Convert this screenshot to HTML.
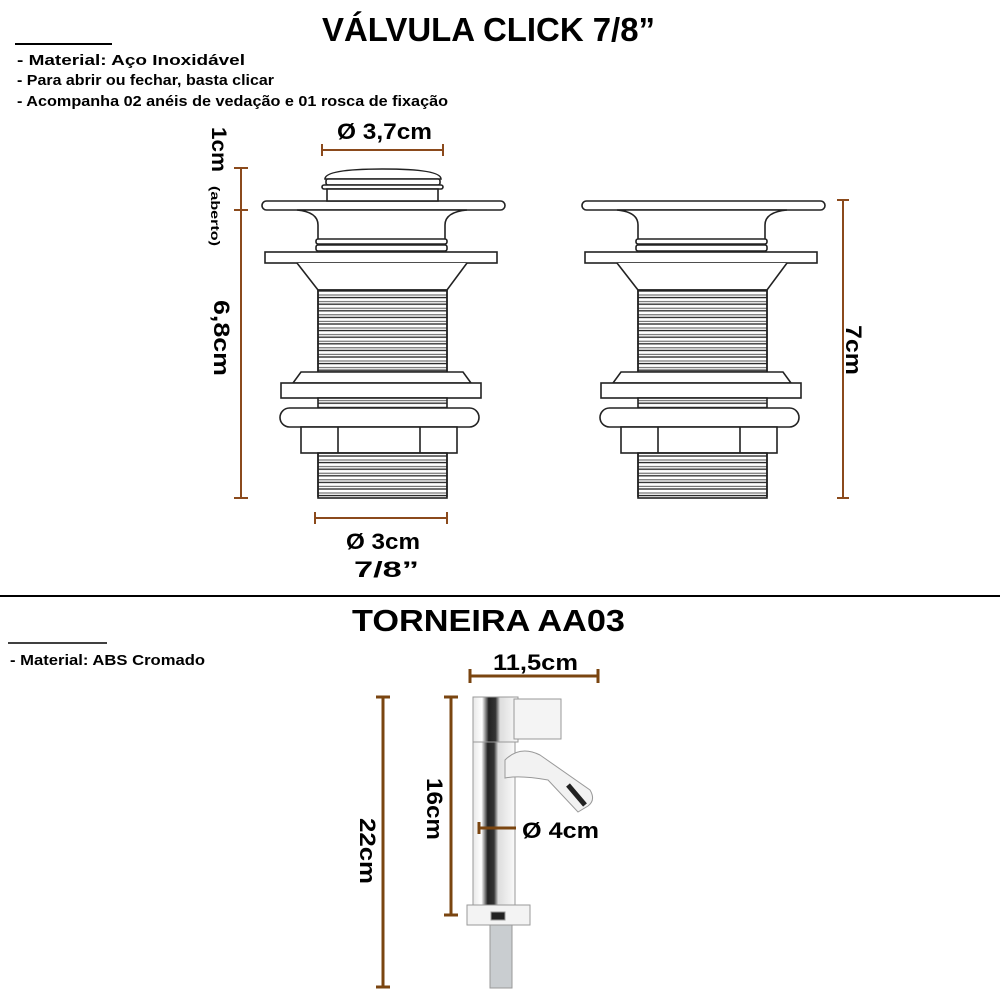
<!DOCTYPE html>
<html><head><meta charset="utf-8"><style>
html,body{margin:0;padding:0;background:#fff;}
svg{display:block;font-family:"Liberation Sans",sans-serif;}
</style></head><body>
<svg width="1000" height="1000" viewBox="0 0 1000 1000" xmlns="http://www.w3.org/2000/svg">
<defs>
<pattern id="thr" patternUnits="userSpaceOnUse" x="0" y="290" width="10" height="6.6">
<rect width="10" height="6.6" fill="#fff"/>
<line x1="0" y1="1" x2="10" y2="1" stroke="#222" stroke-width="1.3"/>
<line x1="0" y1="5" x2="10" y2="5" stroke="#555" stroke-width="1"/>
</pattern>
<linearGradient id="chrome" x1="0" x2="1" y1="0" y2="0">
<stop offset="0" stop-color="#e8e8e8"/><stop offset="0.2" stop-color="#fff"/>
<stop offset="0.35" stop-color="#222"/><stop offset="0.5" stop-color="#333"/>
<stop offset="0.6" stop-color="#ddd"/><stop offset="1" stop-color="#fafafa"/>
</linearGradient>
<g id="valve" fill="#fff" stroke="#222" stroke-width="1.6">
<rect x="262" y="201" width="243" height="9" rx="4.5"/>
<path d="M297 210 Q318 212 318 225 L318 252 L445 252 L445 225 Q445 212 467 210 Z"/>
<rect x="316" y="239" width="131" height="5" rx="2"/>
<rect x="316" y="245" width="131" height="6" rx="2"/>
<rect x="265" y="252" width="232" height="11"/>
<path d="M297 263 L318 290 L447 290 L467 263"/>
<rect x="318" y="290" width="129" height="82" fill="url(#thr)"/>
<path d="M318 290 V372 M447 290 V372" fill="none"/>
<path d="M293 383 L301 372 L463 372 L471 383 Z"/>
<rect x="281" y="383" width="200" height="15"/>
<rect x="318" y="398" width="129" height="10" fill="url(#thr)"/>
<rect x="280" y="408" width="199" height="19" rx="9.5"/>
<rect x="301" y="427" width="156" height="26"/>
<line x1="338" y1="427" x2="338" y2="453"/>
<line x1="420" y1="427" x2="420" y2="453"/>
<rect x="318" y="453" width="129" height="45" fill="url(#thr)"/>
<path d="M318 453 V497 M447 453 V497" fill="none"/>
</g>
</defs>

<text x="322" y="41" font-size="33" font-weight="bold" textLength="333" lengthAdjust="spacingAndGlyphs">VÁLVULA CLICK 7/8”</text>
<line x1="15" y1="44" x2="112" y2="44" stroke="#000" stroke-width="2"/>
<g font-size="15" font-weight="bold">
<text x="17" y="65" textLength="228" lengthAdjust="spacingAndGlyphs">- Material: Aço Inoxidável</text>
<text x="17" y="85" textLength="257" lengthAdjust="spacingAndGlyphs">- Para abrir ou fechar, basta clicar</text>
<text x="17" y="106" textLength="431" lengthAdjust="spacingAndGlyphs">- Acompanha 02 anéis de vedação e 01 rosca de fixação</text>
</g>

<use href="#valve"/>
<g fill="#fff" stroke="#222" stroke-width="1.6">
<path d="M325 179 Q325 169 383 169 Q441 169 441 179 Z"/>
<rect x="326" y="179" width="114" height="6" rx="2"/>
<rect x="322" y="185" width="121" height="4" rx="2"/>
<rect x="327" y="189" width="111" height="12"/>
</g>
<use href="#valve" x="320"/>

<g stroke="#8b4a1c" stroke-width="2" fill="none">
<line x1="322" y1="150" x2="443" y2="150"/><line x1="322" y1="144" x2="322" y2="156"/><line x1="443" y1="144" x2="443" y2="156"/>
<line x1="315" y1="518" x2="447" y2="518"/><line x1="315" y1="512" x2="315" y2="524"/><line x1="447" y1="512" x2="447" y2="524"/>
<line x1="241" y1="168" x2="241" y2="498"/>
<line x1="234" y1="168" x2="248" y2="168"/><line x1="234" y1="210" x2="248" y2="210"/><line x1="234" y1="498" x2="248" y2="498"/>
<line x1="843" y1="200" x2="843" y2="498"/><line x1="837" y1="200" x2="849" y2="200"/><line x1="837" y1="498" x2="849" y2="498"/>
</g>
<g font-weight="bold">
<text x="337" y="139" font-size="22" textLength="95" lengthAdjust="spacingAndGlyphs">Ø 3,7cm</text>
<text x="346" y="549" font-size="22" textLength="74" lengthAdjust="spacingAndGlyphs">Ø 3cm</text>
<text x="354" y="577" font-size="22" textLength="65" lengthAdjust="spacingAndGlyphs">7/8”</text>
<text transform="translate(212,127) rotate(90)" font-size="21" textLength="45" lengthAdjust="spacingAndGlyphs">1cm</text>
<text transform="translate(211,186) rotate(90)" font-size="12" textLength="60" lengthAdjust="spacingAndGlyphs">(aberto)</text>
<text transform="translate(214,300) rotate(90)" font-size="22" textLength="76" lengthAdjust="spacingAndGlyphs">6,8cm</text>
<text transform="translate(846,325) rotate(90)" font-size="22" textLength="50" lengthAdjust="spacingAndGlyphs">7cm</text>
</g>

<line x1="0" y1="596" x2="1000" y2="596" stroke="#000" stroke-width="2"/>
<text x="352" y="631" font-size="31" font-weight="bold" textLength="273" lengthAdjust="spacingAndGlyphs">TORNEIRA AA03</text>
<line x1="8" y1="643" x2="107" y2="643" stroke="#000" stroke-width="1.5"/>
<text x="10" y="665" font-size="15" font-weight="bold" textLength="195" lengthAdjust="spacingAndGlyphs">- Material: ABS Cromado</text>

<g stroke="#999" stroke-width="1">
<rect x="490" y="920" width="22" height="68" fill="#c9cdd0"/>
<path d="M473 700 L515 700 L515 905 L473 905 Z" fill="url(#chrome)"/>
<rect x="473" y="697" width="45" height="45" fill="url(#chrome)"/>
<rect x="514" y="699" width="47" height="40" fill="#f4f4f4"/>
<path d="M505 760 Q520 745 540 755 L590 790 Q596 800 588 806 L578 812 L548 780 Q520 775 505 778 Z" fill="#f2f2f2"/>
<path d="M568 785 L585 805" stroke="#222" stroke-width="5"/>
<path d="M467 905 L530 905 L530 925 L467 925 Z" fill="#f3f3f3"/>
<rect x="491" y="912" width="14" height="8" fill="#222"/>
</g>

<g stroke="#7a4510" stroke-width="3" fill="none">
<line x1="470" y1="676" x2="598" y2="676"/><line x1="470" y1="669" x2="470" y2="683"/><line x1="598" y1="669" x2="598" y2="683"/>
<line x1="383" y1="697" x2="383" y2="987"/><line x1="376" y1="697" x2="390" y2="697"/><line x1="376" y1="987" x2="390" y2="987"/>
<line x1="451" y1="697" x2="451" y2="915"/><line x1="444" y1="697" x2="458" y2="697"/><line x1="444" y1="915" x2="458" y2="915"/>
<line x1="479" y1="828" x2="516" y2="828"/><line x1="479" y1="822" x2="479" y2="834"/>
</g>
<g font-weight="bold">
<text x="493" y="670" font-size="22" textLength="85" lengthAdjust="spacingAndGlyphs">11,5cm</text>
<text x="522" y="838" font-size="22" textLength="77" lengthAdjust="spacingAndGlyphs">Ø 4cm</text>
<text transform="translate(427,778) rotate(90)" font-size="22" textLength="62" lengthAdjust="spacingAndGlyphs">16cm</text>
<text transform="translate(360,818) rotate(90)" font-size="22" textLength="66" lengthAdjust="spacingAndGlyphs">22cm</text>
</g>
</svg>
</body></html>
